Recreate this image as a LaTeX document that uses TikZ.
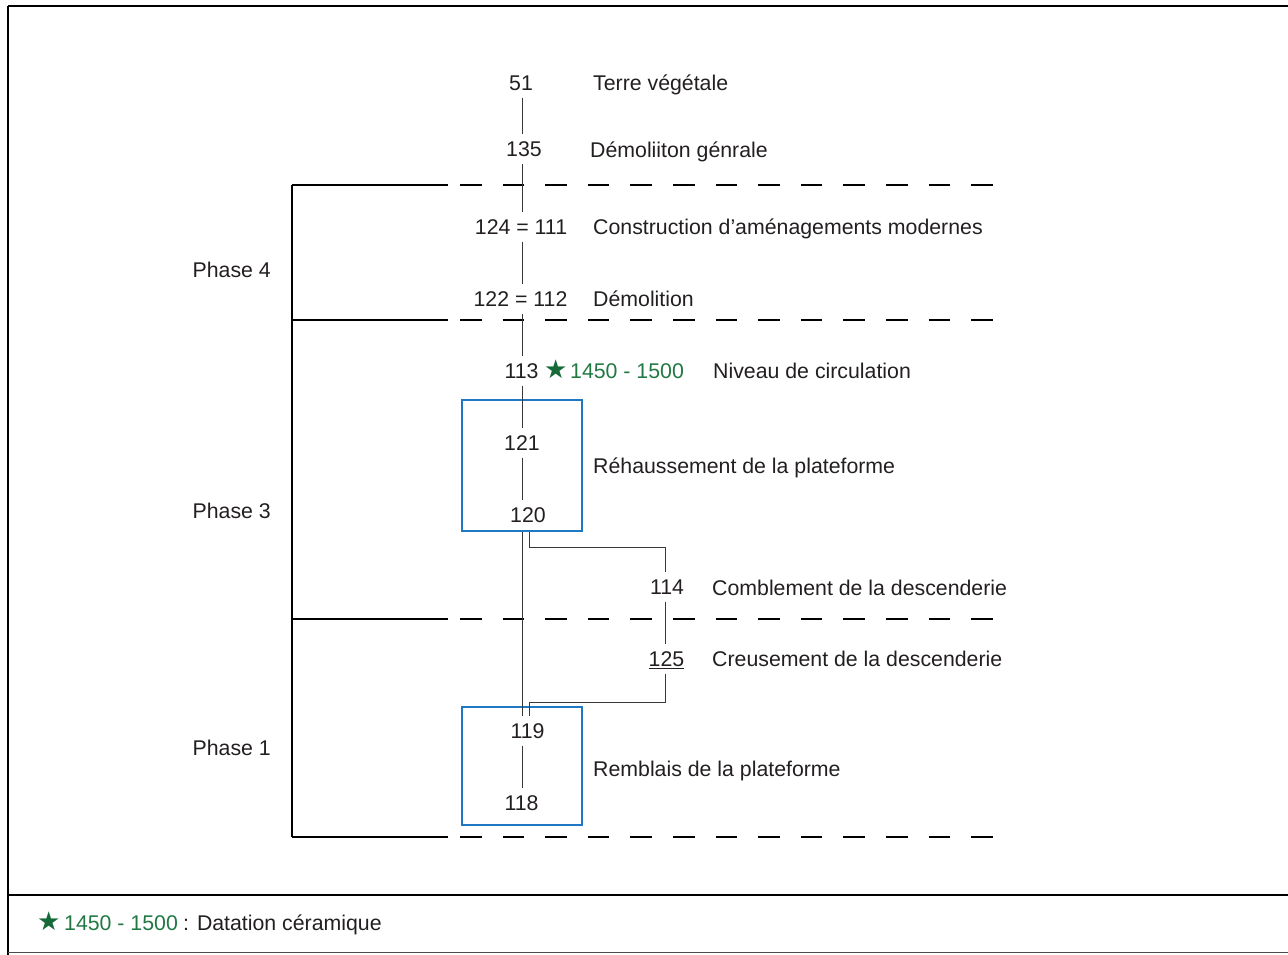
\documentclass[tikz,border=0pt]{standalone}
\usepackage{fontspec}
\setmainfont{Liberation Sans}
\newfontfamily\symfont{DejaVu Sans}
\usetikzlibrary{calc}
\definecolor{txt}{RGB}{35,31,32}
\definecolor{grn}{RGB}{22,106,56}
\definecolor{grntxt}{RGB}{32,120,66}
\definecolor{bluebox}{RGB}{30,120,195}
\begin{document}
\begin{tikzpicture}[x=1pt,y=-1pt,
  every node/.style={font=\fontsize{21.3}{25}\selectfont, text=txt},
  num/.style={inner xsep=0pt, inner ysep=7pt, text height=15pt, text depth=0pt, anchor=center},
  desc/.style={inner sep=0pt, text height=15pt, text depth=0pt, anchor=west},
  phase/.style={inner sep=0pt, text height=15pt, text depth=0pt, anchor=east},
  starsym/.style={inner sep=0pt, text height=15pt, text depth=0pt, anchor=west, font=\symfont\fontsize{26}{26}\selectfont, text=grn},
  link/.style={draw=black!78, line width=0.95pt},
  bracketline/.style={line width=2pt, black},
  limitline/.style={line width=2pt, black, dash pattern=on 21.5pt off 21.1pt},
  uebox/.style={draw=bluebox, line width=2pt, inner sep=0pt, rectangle},
  framel/.style={line width=2.5pt, black}
]
\useasboundingbox (0,0) rectangle (1288,954);

% frame
\draw[framel] (8,6) -- (1292,6);
\draw[framel] (8,6) -- (8,958);
\draw[framel] (8,895) -- (1292,895);
\draw[line width=1.2pt, black!70] (8,952.5) -- (1292,952.5);

% columns
\coordinate (col) at (522,0);
\coordinate (c2) at (529.5,0);
\coordinate (col2) at (665.5,0);

% phase bracket and limits
\draw[bracketline] (292,185) -- (292,837);
\foreach \y in {185,320,619,837} {
  \draw[bracketline] (292,\y) -- (448,\y);
  \draw[limitline] (460,\y) -- (994,\y);
}

\node[phase] (p4) at (271,270) {Phase 4};
\node[phase] (p3) at (271,511) {Phase 3};
\node[phase] (p1) at (271,748) {Phase 1};

% boxes
\node[uebox, minimum width=120pt, minimum height=131pt] (box1) at (522,465.5) {};
\node[uebox, minimum width=120pt, minimum height=118pt] (box2) at (522,766) {};

% units
\node[num] (n51) at (521,83) {51};
\node[num] (n135) at (524,149) {135};
\node[num] (n124) at (521,227) {124 = 111};
\node[num] (n122) at (520.5,299) {122 = 112};
\node[num] (n113) at (521.5,371) {113};
\node[starsym] (star) at (544,371) {★};
\node[num, anchor=west, text=grntxt] (date) at (570,371) {1450 - 1500};
\node[num] (n121) at (522,443) {121};
\node[num] (n120) at (528,515) {120};
\node[num] (n114) at (667,587) {114};
\node[num] (n125) at (666.5,659) {\underline{125}};
\node[num] (n119) at (527.5,731) {119};
\node[num] (n118) at (521.5,803) {118};

% descriptions
\node[desc] (d51) at (593,83) {Terre végétale};
\node[desc] (d135) at (590,150) {Démoliiton génrale};
\node[desc] (d124) at (593,227) {Construction d’aménagements modernes};
\node[desc] (d122) at (593,299) {Démolition};
\node[desc] (d113) at (713,371) {Niveau de circulation};
\node[desc] (d121) at (593,466) {Réhaussement de la plateforme};
\node[desc] (d114) at (712,588) {Comblement de la descenderie};
\node[desc] (d125) at (712,659) {Creusement de la descenderie};
\node[desc] (d118) at (593,769) {Remblais de la plateforme};

% links
\draw[link] (col |- n51.south) -- (col |- n135.north);
\draw[link] (col |- n135.south) -- (col |- n124.north);
\draw[link] (col |- n124.south) -- (col |- n122.north);
\draw[link] (col |- n122.south) -- (col |- n113.north);
\draw[link] (col |- n113.south) -- (col |- n121.north);
\draw[link] (col |- n121.south) -- (col |- n120.north);
\draw[link] (col |- box1.south) -- (col |- n119.north);
\draw[link] (c2 |- box1.south) -- ++(0,15) -| (col2 |- n114.north);
\draw[link] (col2 |- n114.south) -- (col2 |- n125.north);
\draw[link] (col2 |- n125.south) -- ++(0,29) -| (c2 |- n119.north);
\draw[link] (col |- n119.south) -- (col |- n118.north);

% legend
\node[starsym] (lstar) at (37,923) {★};
\node[num, anchor=west, text=grntxt] (ldate) at (64,923) {1450 - 1500};
\node[num, anchor=west] (ltxt) at (183,923) {: Datation céramique};
\end{tikzpicture}
\end{document}
